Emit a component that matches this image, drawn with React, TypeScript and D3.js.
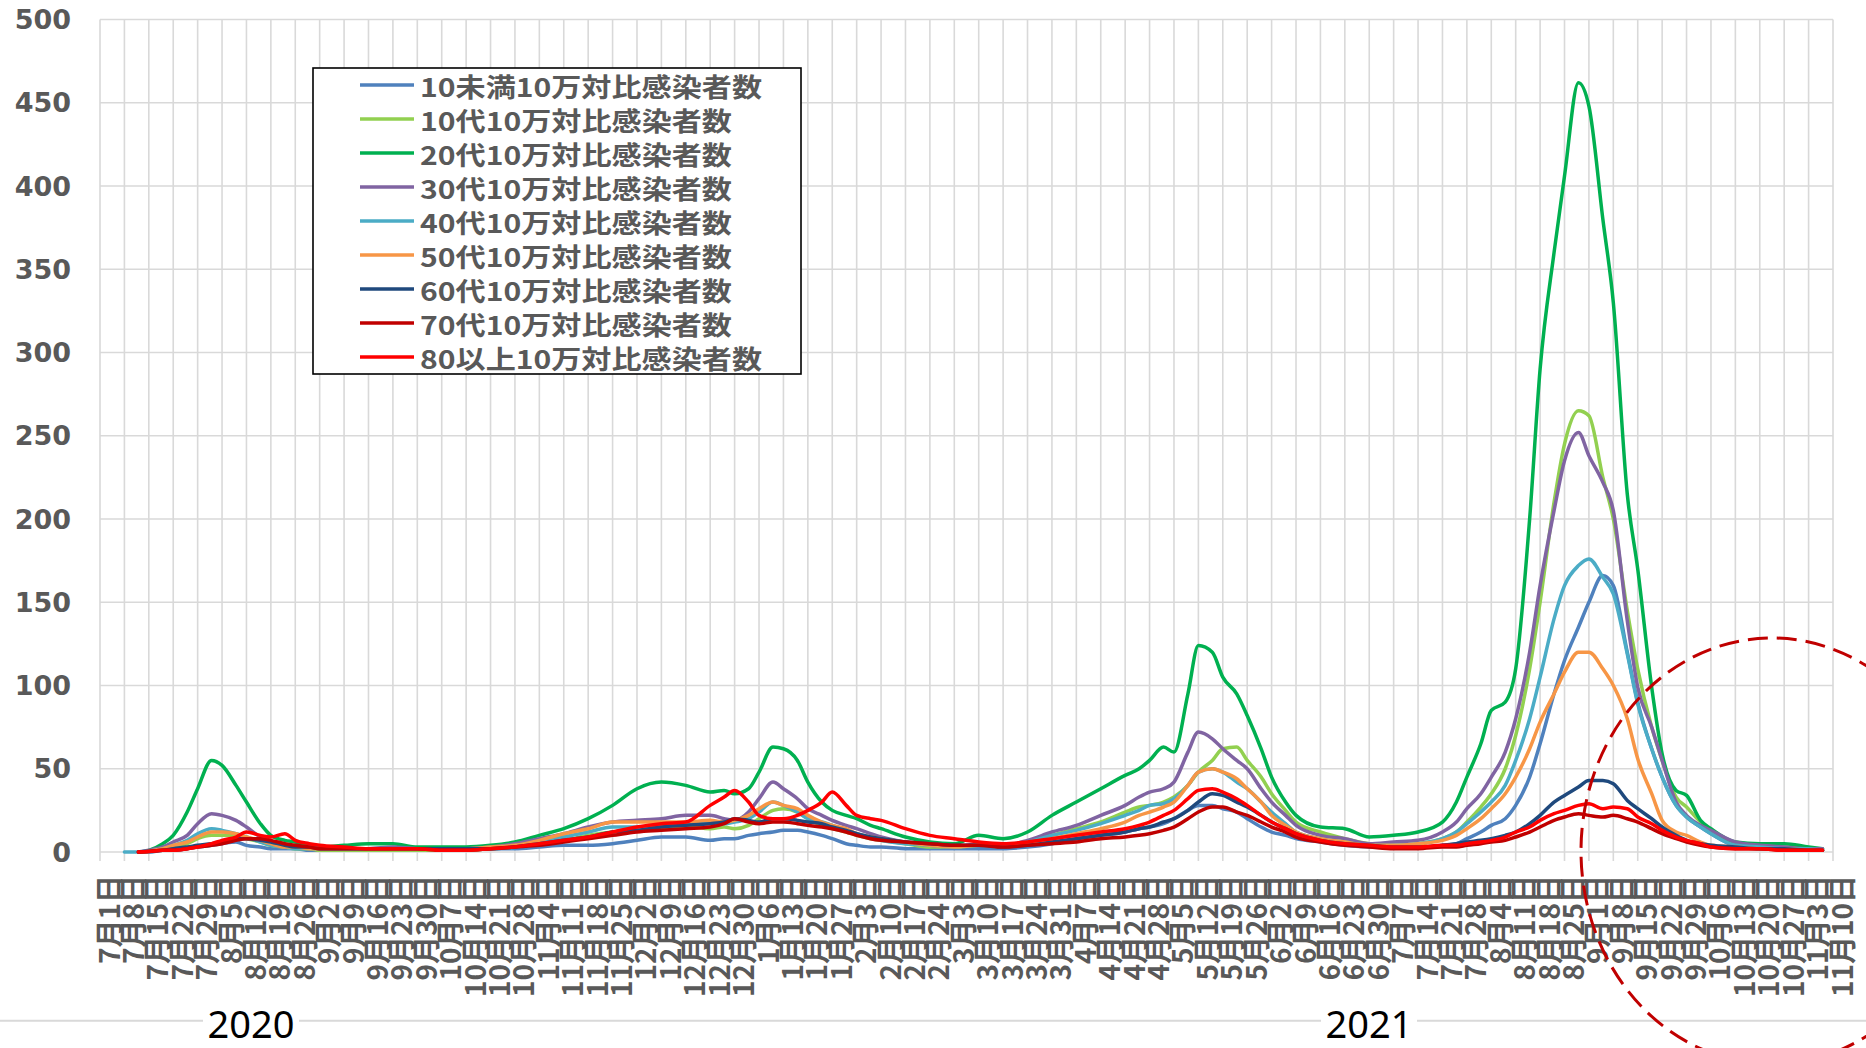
import React from "react";
import * as d3 from "d3";

const dates = [
  "2020-07-08","2020-07-12","2020-07-15","2020-07-19","2020-07-22","2020-07-26","2020-07-29","2020-08-02","2020-08-05","2020-08-09",
  "2020-08-12","2020-08-16","2020-08-19","2020-08-23","2020-08-26","2020-08-30","2020-09-02","2020-09-09","2020-09-16","2020-09-23",
  "2020-09-30","2020-10-07","2020-10-14","2020-10-21","2020-10-28","2020-11-04","2020-11-11","2020-11-18","2020-11-25","2020-12-02",
  "2020-12-09","2020-12-16","2020-12-23","2020-12-27","2020-12-30","2021-01-03","2021-01-06","2021-01-10","2021-01-13","2021-01-17",
  "2021-01-20","2021-01-24","2021-01-27","2021-01-31","2021-02-03","2021-02-07","2021-02-10","2021-02-17","2021-02-24","2021-03-03",
  "2021-03-10","2021-03-17","2021-03-24","2021-03-31","2021-04-07","2021-04-14","2021-04-21","2021-04-25","2021-04-28","2021-05-02",
  "2021-05-05","2021-05-09","2021-05-12","2021-05-16","2021-05-19","2021-05-23","2021-05-26","2021-05-30","2021-06-02","2021-06-06",
  "2021-06-09","2021-06-16","2021-06-23","2021-06-30","2021-07-07","2021-07-14","2021-07-21","2021-07-25","2021-07-28","2021-08-01",
  "2021-08-04","2021-08-08","2021-08-11","2021-08-15","2021-08-18","2021-08-22","2021-08-25","2021-08-29","2021-09-01","2021-09-05",
  "2021-09-08","2021-09-12","2021-09-15","2021-09-19","2021-09-22","2021-09-26","2021-09-29","2021-10-03","2021-10-06","2021-10-13",
  "2021-10-20","2021-10-27","2021-11-03","2021-11-07"
];

const under10 = [null,0,0,1,1,2,3,4,5,6, 4,3,2,2,2,1,1,1,1,1, 1,1,1,2,2,3,4,4,5,7, 9,9,7,8,8,10,11,12,13,13, 12,10,8,5,4,3,3,2,2,2, 2,2,3,5,8,10,12,14,15,17, 20,25,28,28,26,24,20,15,12,10, 8,6,4,3,3,3,4,5,8,12, 16,20,28,45,65,95,115,135,150,166, 160,120,90,62,45,28,21,15,11,4, 3,2,2,1];
const teens = [null,0,0.5,2,3,5,8,10,10,10, 8,6,4,3,2,2,1,1,1,1, 1,1,1,2,3,5,7,10,12,13, 14,15,14,15,14,16,20,25,26,24, 20,16,14,12,10,8,7,5,3,3, 4,4,6,10,14,18,24,27,28,30, 33,40,48,55,62,63,55,45,35,25, 18,12,8,5,4,5,8,12,18,27, 35,50,70,110,150,210,245,265,262,225, 200,145,110,75,55,33,27,18,13,5, 3,3,2,1];
const twenties = [null,0,1,5,10,24,38,55,52,40, 30,17,10,7,6,4,3,4,5,5, 3,3,3,4,6,10,14,20,28,38, 42,40,36,37,35,38,48,63,62,55, 42,30,25,22,20,16,14,9,6,5, 10,8,12,22,30,38,46,50,55,63, 60,95,124,120,105,95,82,62,45,30, 22,15,14,9,10,12,18,30,45,65, 85,90,110,200,290,360,406,462,448,380, 330,215,170,99,59,37,34,19,14,6, 5,5,3,2];
const thirties = [null,0,1,3,6,10,17,23,22,19, 15,9,6,4,3,3,2,2,2,3, 2,2,2,3,5,8,11,15,18,19, 20,22,22,20,19,24,32,42,38,32, 26,22,19,16,14,11,9,6,4,3, 5,4,7,12,16,22,28,33,36,38, 42,60,72,68,62,55,50,38,30,22, 16,10,8,5,6,7,12,18,26,35, 45,60,80,120,160,205,235,252,238,222, 205,139,99,75,55,30,22,16,13,6, 4,3,2,2];
const forties = [0,0,0.5,2,4,7,11,14,13,11, 9,6,4,3,2,2,2,2,2,2, 2,2,2,2,3,6,9,12,15,15, 16,17,18,17,18,20,24,30,28,24, 20,18,16,13,11,9,7,5,4,3, 4,4,6,10,13,17,22,25,28,29, 32,40,48,50,48,42,38,30,24,17, 12,8,6,4,4,5,8,12,17,24, 30,40,55,80,105,140,160,172,176,165, 155,119,89,62,45,28,21,15,11,4, 3,2,2,1];
const fifties = [null,0,0.5,2,4,6,9,12,12,11, 9,7,5,3,3,2,2,2,2,2, 2,2,2,3,4,7,11,14,18,18, 18,18,19,18,19,22,26,30,28,26, 22,18,16,14,11,9,8,6,4,3, 4,3,5,8,11,14,18,22,24,27, 30,40,48,50,48,44,38,30,22,16, 12,8,6,4,4,5,7,10,14,20, 26,35,45,62,78,95,108,120,120,110, 100,80,56,35,19,12,10,6,4,3, 2,2,1,1];
const sixties = [null,0,0.5,1,2,3,4,5,6,8, 8,7,6,4,3,3,2,2,2,2, 2,2,2,2,3,5,7,9,12,13, 15,16,17,18,20,19,18,20,20,19, 18,17,15,13,11,9,8,6,5,4, 4,3,4,6,8,10,12,14,15,18, 20,25,30,35,34,30,27,22,18,14, 11,7,5,4,3,3,4,5,6,7, 8,10,12,17,22,30,34,39,43,43, 41,31,26,20,15,10,7,5,4,3, 2,2,1,1];
const seventies = [null,0,0.3,1,1,2,3,4,5,7, 8,8,7,5,4,3,2,2,2,2, 2,1,1,2,3,4,6,8,10,12, 13,14,15,17,20,18,17,18,18,17, 16,15,14,12,10,8,7,6,5,4, 4,3,4,5,6,8,9,10,11,13, 15,20,24,27,27,24,22,18,15,12, 9,6,4,3,2,2,3,3,4,5, 6,7,9,12,15,19,21,23,22,21, 22,20,18,14,11,8,6,4,3,2, 2,1,1,1];
const over80 = [null,0,0.3,1,1,2,3,5,7,9, 12,10,9,11,7,5,4,3,2,2, 2,1,1,2,3,5,7,9,12,15, 17,18,28,33,37,30,22,20,20,22, 25,30,36,28,22,20,19,14,10,8, 6,5,6,8,10,12,14,16,18,22, 25,32,37,38,36,32,28,22,18,14, 11,7,5,4,3,3,4,4,5,6, 7,9,12,15,19,23,25,28,29,26, 27,26,21,17,13,9,7,5,3,2, 2,1,1,1];

const seriesNames = [
  "10未満10万対比感染者数","10代10万対比感染者数","20代10万対比感染者数","30代10万対比感染者数",
  "40代10万対比感染者数","50代10万対比感染者数","60代10万対比感染者数","70代10万対比感染者数","80以上10万対比感染者数"
];
const seriesValues = [under10, teens, twenties, thirties, forties, fifties, sixties, seventies, over80];
const seriesColors = ["#4f81bd","#92d050","#00b050","#8064a2","#4bacc6","#f79646","#1f497d","#c00000","#ff0000"];
const legendWidths = [342,312,312,312,312,312,312,312,342];
const yTicks = [0,50,100,150,200,250,300,350,400,450,500];
const yearLabels = [{ text: "2020", x: 251 }, { text: "2021", x: 1369 }];

export default function App() {
  const W = 1866, H = 1048;
  const left = 100, right = 1833, top = 19.5, bottom = 852;
  const start = new Date(Date.UTC(2020, 6, 1));
  const end = new Date(Date.UTC(2021, 10, 10));
  const x = d3.scaleUtc().domain([start, end]).range([left, right]);
  const y = d3.scaleLinear().domain([0, 500]).range([bottom, top]);
  const weekTicks = d3.utcWednesday.range(start, new Date(Date.UTC(2021, 10, 11)));
  const parsed = dates.map((s) => new Date(s + "T00:00:00Z"));
  const line = d3
    .line<[Date, number | null]>()
    .defined((d) => d[1] != null)
    .x((d) => x(d[0]))
    .y((d) => y(d[1] as number))
    .curve(d3.curveMonotoneX);

  const grid = "#d9d9d9";
  const gray = "#595959";
  const cjk = "'Noto Sans CJK JP', 'Noto Sans', sans-serif";

  return (
    <svg width={W} height={H} style={{ position: "absolute", left: 0, top: 0, display: "block", background: "#fff" }}>
      <rect x={0} y={0} width={W} height={H} fill="#fff" />
      {yTicks.map((t) => (
        <line key={"h" + t} x1={left} x2={right} y1={y(t)} y2={y(t)} stroke={grid} strokeWidth={1.6} />
      ))}
      {weekTicks.map((d, i) => (
        <line key={"v" + i} x1={x(d)} x2={x(d)} y1={top} y2={bottom + 9} stroke={grid} strokeWidth={1.6} />
      ))}
      {yTicks.map((t) => (
        <text key={"yl" + t} x={71} y={y(t)} textAnchor="end" dominantBaseline="central"
          fontFamily="'DejaVu Sans', sans-serif" fontWeight="bold" fontSize={27} fill={gray}>{t}</text>
      ))}
      {weekTicks.map((d, i) => (
        <text key={"xl" + i} transform={`translate(${x(d) + 7.5},875) rotate(-90)`} textAnchor="end"
          dominantBaseline="central" fontFamily={cjk} fontWeight="bold" fontSize={28} fill={gray}>
          {`${d.getUTCMonth() + 1}月${d.getUTCDate()}日`}
        </text>
      ))}
      {seriesValues.map((vals, si) => (
        <path key={"s" + si}
          d={line(parsed.map((d, i) => [d, vals[i]] as [Date, number | null])) || ""}
          fill="none" stroke={seriesColors[si]} strokeWidth={3.5} strokeLinejoin="round" strokeLinecap="round" />
      ))}
      <g>
        <rect x={313} y={68} width={488} height={306} fill="#fff" stroke="#000" strokeWidth={1.6} />
        {seriesNames.map((n, i) => {
          const yy = 85 + 34 * i;
          return (
            <g key={"lg" + i}>
              <line x1={360} x2={414} y1={yy} y2={yy} stroke={seriesColors[i]} strokeWidth={3.5} />
              <text x={420} y={yy} dominantBaseline="central" fontFamily={cjk} fontWeight="bold" fontSize={26}
                fill={gray} textLength={legendWidths[i]} lengthAdjust="spacingAndGlyphs">{n}</text>
            </g>
          );
        })}
      </g>
      <line x1={0} x2={W} y1={1020.7} y2={1020.7} stroke={grid} strokeWidth={2} />
      {yearLabels.map((yl) => (
        <g key={yl.text}>
          <rect x={yl.x - 48} y={1008} width={96} height={38} fill="#fff" />
          <text x={yl.x} y={1038} textAnchor="middle" fontFamily="'Noto Sans', sans-serif" fontSize={38} fill="#000">{yl.text}</text>
        </g>
      ))}
      <ellipse cx={1772} cy={851} rx={191} ry={213} fill="none" stroke="#c00000" strokeWidth={3} strokeDasharray="20 9" />
    </svg>
  );
}
